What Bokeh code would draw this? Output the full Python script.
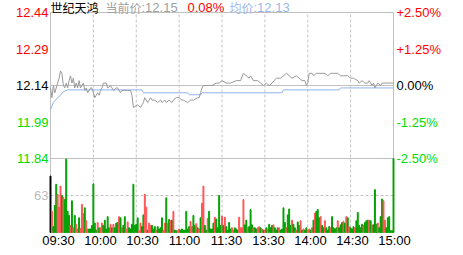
from bokeh.plotting import figure
from bokeh.models import Range1d, ColumnDataSource
from bokeh.core.properties import value
from bokeh.embed import file_html
from bokeh.resources import INLINE

# ---------------- data ----------------
stock_name = "世纪天鸿"
prev_close = 12.14
last_price = 12.15
change_pct = 0.08
avg_now = 12.13

price_ticks = [12.44, 12.29, 12.14, 11.99, 11.84]
pct_labels = ["+2.50%", "+1.25%", "0.00%", "-1.25%", "-2.50%"]
time_labels = ["09:30", "10:00", "10:30", "11:00", "11:30", "13:30", "14:00", "14:30", "15:00"]

# minute index (0 = 09:30, 120 = 11:30/13:00, 240 = 15:00) and price
price_min = [0, 1, 2, 3, 5, 6, 7, 8, 9, 10, 11, 12, 13, 14, 15, 16, 17, 18, 19, 20,
             21, 23, 24, 25, 26, 28, 29, 30, 31, 33, 34, 35, 36, 37, 39, 40, 42, 44, 46, 47,
             49, 50, 52, 54, 56, 57, 58, 61, 63, 65, 66, 68, 70, 71, 73, 75, 77, 78, 80, 81,
             83, 85, 86, 88, 90, 92, 93, 96, 98, 100, 103, 104, 105, 106, 107, 109, 111, 113, 116, 118,
             120, 123, 126, 130, 133, 135, 137, 139, 140, 142, 145, 147, 149, 151, 153, 155, 158, 161, 165, 167,
             169, 172, 174, 176, 178, 179, 180, 181, 183, 184, 186, 188, 190, 192, 194, 196, 198, 201, 203, 205,
             208, 210, 212, 215, 216, 218, 220, 222, 223, 225, 226, 227, 229, 231, 232, 234, 237, 240]
price_val = [12.13, 12.09, 12.14, 12.11, 12.15, 12.17, 12.20, 12.19, 12.14, 12.13, 12.15, 12.13, 12.16, 12.18, 12.15, 12.17, 12.13, 12.15, 12.13, 12.16,
             12.13, 12.15, 12.12, 12.13, 12.11, 12.13, 12.13, 12.11, 12.09, 12.11, 12.10, 12.12, 12.13, 12.15, 12.15, 12.13, 12.14, 12.12, 12.13, 12.13,
             12.11, 12.12, 12.12, 12.12, 12.12, 12.10, 12.05, 12.06, 12.05, 12.07, 12.09, 12.07, 12.09, 12.08, 12.08, 12.07, 12.08, 12.07, 12.08, 12.07,
             12.08, 12.07, 12.08, 12.09, 12.09, 12.08, 12.08, 12.07, 12.08, 12.08, 12.09, 12.09, 12.11, 12.13, 12.14, 12.14, 12.14, 12.14, 12.15, 12.15,
             12.16, 12.15, 12.15, 12.16, 12.16, 12.19, 12.18, 12.17, 12.18, 12.16, 12.16, 12.15, 12.14, 12.15, 12.14, 12.15, 12.17, 12.17, 12.19, 12.18,
             12.17, 12.18, 12.17, 12.16, 12.16, 12.14, 12.15, 12.19, 12.19, 12.18, 12.19, 12.19, 12.19, 12.19, 12.18, 12.19, 12.19, 12.19, 12.18, 12.18,
             12.18, 12.17, 12.17, 12.16, 12.15, 12.16, 12.15, 12.15, 12.16, 12.14, 12.15, 12.13, 12.15, 12.14, 12.15, 12.15, 12.15, 12.15]

avg_min = [0, 2, 5, 7, 9, 12, 64, 65, 96, 97, 105, 106, 162, 163, 202, 203, 240]
avg_val = [12.04, 12.07, 12.09, 12.10, 12.115, 12.122, 12.122, 12.11, 12.11, 12.102, 12.102, 12.11,
           12.11, 12.122, 12.122, 12.13, 12.13]

volume = [96, 36, 10, 46, 82, 65, 43, 79, 63, 60,
          56, 125, 36, 29, 12, 54, 8, 29, 14, 6,
          25, 7, 48, 32, 42, 20, 6, 6, 6, 12,
          83, 16, 4, 17, 8, 8, 16, 12, 21, 6,
          27, 8, 14, 8, 14, 8, 16, 17, 27, 25,
          8, 12, 27, 6, 18, 8, 6, 14, 82, 12,
          14, 25, 3, 16, 10, 30, 65, 43, 4, 16,
          12, 12, 6, 10, 4, 10, 6, 8, 25, 4,
          16, 59, 16, 22, 20, 21, 36, 4, 3, 3,
          6, 4, 6, 4, 4, 36, 6, 10, 19, 10,
          29, 12, 15, 8, 6, 25, 50, 79, 12, 4,
          24, 36, 6, 6, 16, 26, 23, 8, 63, 12,
          28, 12, 26, 10, 4, 17, 6, 8, 4, 8,
          6, 4, 26, 8, 8, 56, 13, 21, 8, 10,
          39, 13, 8, 8, 6, 8, 10, 8, 6, 4,
          4, 8, 6, 14, 8, 12, 13, 8, 4, 8,
          8, 4, 6, 42, 17, 8, 30, 40, 12, 21,
          14, 8, 4, 18, 12, 20, 4, 6, 4, 8,
          4, 6, 4, 8, 21, 33, 36, 39, 25, 27,
          12, 8, 20, 8, 4, 10, 8, 27, 8, 6,
          8, 20, 8, 13, 17, 19, 16, 27, 25, 10,
          8, 6, 10, 8, 20, 34, 12, 8, 14, 12,
          17, 20, 21, 21, 20, 13, 13, 73, 14, 16,
          8, 27, 57, 54, 21, 8, 25, 27, 3, 3,
          126]
# k = auction, r = up minute, g = down minute
volume_side = list("krggg" "rrrgr"
                   "ggggr" "grgrr"
                   "grrrg" "rrggg"
                   "gggrg" "rrggg"
                   "ggrgr" "gggrg"
                   "rggrr" "ggggg"
                   "ggrrg" "grrgr"
                   "rgggr" "ggggr"
                   "rgrgr" "grggr"
                   "rgggg" "gggrr"
                   "ggrgr" "grrgg"
                   "rgggg" "rgggg"
                   "rgrgg" "ggrrg"
                   "ggrrr" "rggrg"
                   "ggrgg" "rrgrg"
                   "rgrgg" "grggg"
                   "rgggg" "rgggr"
                   "ggrgg" "rgrgg"
                   "rrgrg" "rgggr"
                   "ggrgg" "grggg"
                   "grggg" "rgrgr"
                   "gggrg" "ggggr"
                   "gggrg" "rgggr"
                   "gggrr" "ggggg"
                   "g")

# ---------------- layout (pixels) ----------------
W, H = 463, 255
LEFT, RIGHT, TOP, MID, BOTTOM = 50, 393, 12, 158, 232
N_MIN = 240

p_top, p_bot = price_ticks[0], price_ticks[-1]
span_p = p_top - p_bot
vol_max = max(volume)


def xm(px):
    return (px - LEFT) * N_MIN / (RIGHT - LEFT)


def yp(py):
    return p_top - (py - TOP) * span_p / (MID - TOP)


def yv(py):
    return (BOTTOM - py) * vol_max / (BOTTOM - MID)


RED = "#ff0000"
GREEN = "#00dd00"
GRID = "#c4c4c4"
NUM_FONT = "Liberation Sans"
CJK_FONT = "Noto Sans CJK SC"

p = figure(width=W, height=H, output_backend="svg", toolbar_location=None,
           x_range=Range1d(xm(0), xm(W)), y_range=Range1d(yp(H), yp(0)),
           x_axis_type=None, y_axis_type=None,
           min_border=0, min_border_left=0, min_border_right=0,
           min_border_top=0, min_border_bottom=0,
           outline_line_color=None, background_fill_color="white",
           border_fill_color="white")
p.extra_y_ranges = {"vol": Range1d(yv(H), yv(0))}

y_frame_bot = yp(BOTTOM)

# dashed grid
grid_m = list(range(30, N_MIN, 30))
p.segment(x0=grid_m, y0=[y_frame_bot] * len(grid_m), x1=grid_m, y1=[p_top] * len(grid_m),
          line_color=GRID, line_width=1, line_dash="3 2")
p.segment(x0=[0], y0=[vol_max / 2], x1=[N_MIN], y1=[vol_max / 2], y_range_name="vol",
          line_color=GRID, line_width=1, line_dash="3 2")
# solid lines: top border, prev close, price/volume divider, side borders
hl = [p_top, prev_close, p_bot]
p.segment(x0=[0] * 3, y0=hl, x1=[N_MIN] * 3, y1=hl, line_color="#c0c0c0", line_width=1)
p.segment(x0=[0, N_MIN], y0=[y_frame_bot] * 2, x1=[0, N_MIN], y1=[p_top] * 2,
          line_color="#c0c0c0", line_width=1)

# volume bars
side_color = {"k": "#000000", "r": "#ff5555", "g": "#00a000"}
src = ColumnDataSource(dict(x=list(range(len(volume))), top=volume,
                            color=[side_color[s] for s in volume_side]))
p.vbar(x="x", top="top", width=0.65, bottom=0, color="color", source=src,
       y_range_name="vol")

# price and average lines
p.line(avg_min, avg_val, line_color="#8fb3ec", line_width=1)
p.line(price_min, price_val, line_color="#9a9a9a", line_width=1)


def tick_color(v):
    if abs(v - prev_close) < 1e-9:
        return "black"
    return RED if v > prev_close else GREEN


cols = [tick_color(v) for v in price_ticks]
# left price labels
p.text(x=[xm(48)] * len(price_ticks), y=price_ticks, text=[f"{v:.2f}" for v in price_ticks],
       text_color=cols, text_align="right", text_baseline="middle",
       text_font=value(NUM_FONT), text_font_size="13px")
# right percent labels
p.text(x=[xm(396)] * len(price_ticks), y=price_ticks, text=pct_labels,
       text_color=cols, text_align="left", text_baseline="middle",
       text_font=value(NUM_FONT), text_font_size="13px")
# volume label
p.text(x=[xm(48)], y=[vol_max / 2], text=[f"{vol_max // 2}"], y_range_name="vol",
       text_color="#bbbbbb", text_align="right", text_baseline="middle",
       text_font=value(NUM_FONT), text_font_size="13px")

# time labels (evenly spaced as in the source page)
n_lab = len(time_labels)
x0c, x1c = 58, 394
p.text(x=[xm(x0c + i * (x1c - x0c) / (n_lab - 1)) for i in range(n_lab)],
       y=[yp(239.5)] * n_lab, text=time_labels, text_color="black",
       text_align="center", text_baseline="middle",
       text_font=value(NUM_FONT), text_font_size="13px")

# header texts: (left px, CJK part, numeric part, colour)
header = [(50, stock_name, "", "black"),
          (105, "当前价", f":{last_price:.2f}", "#a0a0a0"),
          (187, "", f"{change_pct:.2f}%", RED),
          (229, "均价", f":{avg_now:.2f}", "#9bb8ea")]
CJK_PX = 12
cjk_x, cjk_t, cjk_c, num_x, num_t, num_c = [], [], [], [], [], []
for px, cj, nm, c in header:
    if cj:
        cjk_x.append(xm(px)); cjk_t.append(cj); cjk_c.append(c)
    if nm:
        num_x.append(xm(px + CJK_PX * len(cj))); num_t.append(nm); num_c.append(c)
p.text(x=cjk_x, y=[yp(6.5)] * len(cjk_x), text=cjk_t, text_color=cjk_c,
       text_align="left", text_baseline="middle",
       text_font=value(CJK_FONT), text_font_size=f"{CJK_PX}px")
p.text(x=num_x, y=[yp(7)] * len(num_x), text=num_t, text_color=num_c,
       text_align="left", text_baseline="middle",
       text_font=value(NUM_FONT), text_font_size="13px")

open("out.html", "w").write(file_html(p, INLINE))
